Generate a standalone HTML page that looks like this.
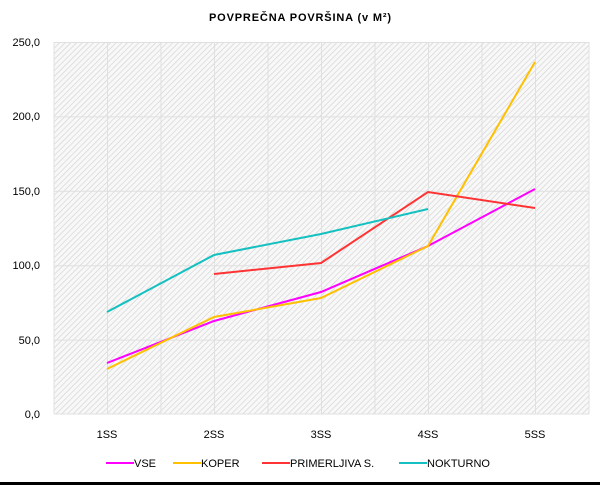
<!DOCTYPE html><html><head><style>body{margin:0;background:#fff}svg{display:block;font-family:"Liberation Sans",sans-serif}</style></head><body>
<svg width="600" height="485" viewBox="0 0 600 485">
<defs><pattern id="h" width="4" height="4" patternUnits="userSpaceOnUse" patternTransform="rotate(45)"><rect width="4" height="4" fill="#f8f8f8"/><line x1="0" y1="0" x2="0" y2="4" stroke="#d2d2d2" stroke-width="1.3"/></pattern></defs>
<text x="300" y="21" text-anchor="middle" font-size="11" font-weight="bold" textLength="182">POVPREČNA POVRŠINA (v M²)</text>
<rect x="54" y="42" width="535" height="372" fill="url(#h)"/>
<g stroke="#e0e0e0" stroke-width="1">
<line x1="54" y1="42.5" x2="589" y2="42.5"/><line x1="54" y1="116.9" x2="589" y2="116.9"/><line x1="54" y1="191.3" x2="589" y2="191.3"/><line x1="54" y1="265.7" x2="589" y2="265.7"/><line x1="54" y1="340.1" x2="589" y2="340.1"/><line x1="54" y1="414" x2="589" y2="414"/>
<line x1="54" y1="42" x2="54" y2="414"/><line x1="107.5" y1="42" x2="107.5" y2="414"/><line x1="161" y1="42" x2="161" y2="414"/><line x1="214.5" y1="42" x2="214.5" y2="414"/><line x1="268" y1="42" x2="268" y2="414"/><line x1="321.5" y1="42" x2="321.5" y2="414"/><line x1="375" y1="42" x2="375" y2="414"/><line x1="428.5" y1="42" x2="428.5" y2="414"/><line x1="482" y1="42" x2="482" y2="414"/><line x1="535.5" y1="42" x2="535.5" y2="414"/><line x1="589" y1="42" x2="589" y2="414"/>
</g>
<g font-size="11" fill="#000" text-anchor="end">
<text x="40" y="46">250,0</text><text x="40" y="120">200,0</text><text x="40" y="195">150,0</text><text x="40" y="269">100,0</text><text x="40" y="344">50,0</text><text x="40" y="418">0,0</text>
</g>
<g font-size="11" text-anchor="middle">
<text x="107" y="438">1SS</text><text x="214" y="438">2SS</text><text x="321" y="438">3SS</text><text x="428" y="438">4SS</text><text x="535" y="438">5SS</text>
</g>
<g fill="none" stroke-width="2">
<polyline stroke="#ff00ff" points="107,363 214,321 321,292 428,246 535,189"/>
<polyline stroke="#ffc000" points="107,369 214,317 321,298 428,246 535,62"/>
<polyline stroke="#ff3333" points="214,274 321,263 428,192 535,208"/>
<polyline stroke="#14c0c0" points="107,312 214,255 321,234 428,209"/>
</g>
<g stroke-width="2"><line x1="106" y1="463" x2="134" y2="463" stroke="#ff00ff"/><line x1="173" y1="463" x2="201" y2="463" stroke="#ffc000"/><line x1="262" y1="463" x2="290" y2="463" stroke="#ff3333"/><line x1="399" y1="463" x2="427" y2="463" stroke="#14c0c0"/></g>
<g font-size="11"><text x="134" y="467">VSE</text><text x="201" y="467">KOPER</text><text x="290" y="467">PRIMERLJIVA S.</text><text x="427" y="467">NOKTURNO</text></g>
<rect x="0" y="482" width="600" height="3" fill="#000"/>
</svg></body></html>
